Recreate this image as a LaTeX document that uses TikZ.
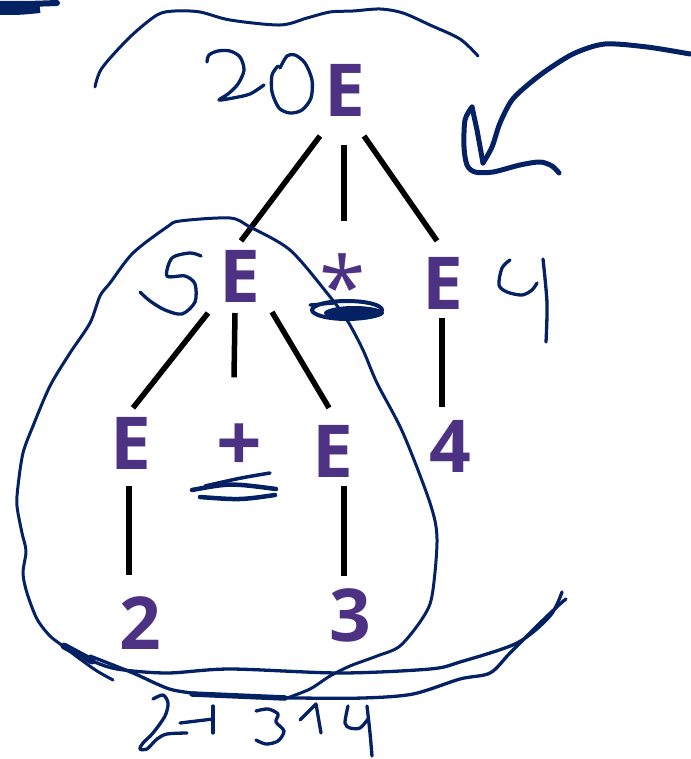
\documentclass[tikz,border=0pt]{standalone}
\usepackage{fontspec}
\setsansfont{Open Sans}
\definecolor{pur}{RGB}{77,50,132}
\definecolor{ink}{RGB}{3,33,99}
\tikzset{
  sym/.style={inner sep=0pt, outer sep=0pt, text=pur, anchor=base,
    font=\fontsize{73}{73}\selectfont\sffamily\bfseries},
  edge/.style={line width=5.5pt, black},
  pen/.style={ink, line width=3.3pt, line cap=round, line join=round},
  fatpen/.style={pen, line width=5pt}
}
\begin{document}
\begin{tikzpicture}[x=1pt,y=-1pt]
\useasboundingbox (0,0) rectangle (690,759);

% ---------- tree symbols ----------
\node[sym] (topE)   at (345,117)   {E};
\node[sym] (midE)   at (239.5,302) {E};
\node[sym, font=\fontsize{84}{84}\selectfont\sffamily] (star) at (343,317) {*};
\node[sym] (rightE) at (442.5,309) {E};
\node[sym] (leftE)  at (130.5,469) {E};
\node[sym, font=\fontsize{80}{80}\selectfont\sffamily\bfseries] (plus) at (239,471) {+};
\node[sym] (innerE) at (332.5,477) {E};
\node[sym] (four)   at (450,472)   {4};
\node[sym] (two)    at (140.5,649) {2};
\node[sym] (three)  at (350.5,641) {3};

% ---------- tree edges ----------
\draw[edge] ([shift={(-25,19)}]topE.south) -- ([shift={(1.5,-9)}]midE.north);
\draw[edge] ([shift={(-1,28)}]topE.south) -- ([shift={(1,-32)}]star.north);
\draw[edge] ([shift={(19,19)}]topE.south) -- ([shift={(-5.5,-16)}]rightE.north);
\draw[edge] ([shift={(-31.5,11)}]midE.south) -- ([shift={(2.5,-9)}]leftE.north);
\draw[edge] ([shift={(-4.5,11)}]midE.south) -- ([shift={(-5,-46)}]plus.north);
\draw[edge] ([shift={(32.5,10)}]midE.south) -- ([shift={(-3.5,-17)}]innerE.north);
\draw[edge] ([shift={(-0.5,9)}]rightE.south) -- ([shift={(-8,-13)}]four.north);
\draw[edge] ([shift={(-1.5,17)}]leftE.south) -- ([shift={(-11.5,-21)}]two.north);
\draw[edge] ([shift={(11.5,9)}]innerE.south) -- ([shift={(-6.5,-12)}]three.north);

% ---------- hand-drawn annotations ----------
% top-left scribble
\draw[ink, line width=8pt] (0,11) .. controls (20,11) .. (40,9);
\draw[ink, line width=6pt, line cap=round] (0,4) .. controls (30,4) .. (57,3);

% arc over the top
\draw[pen, line width=3pt] plot[smooth, tension=0.5] coordinates {
  (95,87) (102,68) (130,37) (157,15) (175,11) (200,12) (230,20) (280,25)
  (307,18) (330,12) (353,11) (380,9) (403,13) (430,25) (460,39) (478,56)};

% "20"
\draw[pen] plot[smooth, tension=0.5] coordinates {
  (207,62) (209,55) (218,51) (230,51) (240,57) (244,70) (238,84) (228,94)
  (219,100) (233,98) (250,94) (264,85)};
\draw[pen] plot[smooth, tension=0.5] coordinates {
  (280,68) (287,56) (295,55) (305,63) (312,80) (311,98) (302,110) (290,113)
  (279,108) (272,92) (272,75) (278,66)};

% "5"
\draw[pen] plot[smooth, tension=0.5] coordinates {
  (201,256) (190,253) (172,258) (167,276) (185,276) (195,284) (195,302)
  (182,314) (165,310) (150,301) (140,292)};

% "4" on the right
\draw[pen] plot[smooth, tension=0.5] coordinates {
  (510,260) (502,268) (499,285) (507,292) (522,295) (532,290) (537,283)};
\draw[pen] plot[smooth, tension=0.5] coordinates {(543,259) (547,303) (546,342)};

% scribble under *
\draw[ink, line width=4pt] (347,310) ellipse [x radius=35, y radius=9];
\fill[ink] (354,313) ellipse [x radius=30, y radius=7];
\draw[pen] (310,305) -- (334,303);

% scribble under +
\draw[ink, line width=4.5pt, line cap=round] (192,490) .. controls (230,483) .. (276,489);
\draw[ink, line width=4.5pt, line cap=round] (200,497) .. controls (240,500) .. (275,495);
\draw[ink, line width=3.5pt, line cap=round] (205,486) .. controls (240,478) .. (270,473);

% big loop around left subtree
\draw[pen, line width=3pt] plot[smooth, tension=0.5] coordinates {
  (113,680) (97,671) (80,659) (63,646) (50,636) (37,619) (27,593) (23,573)
  (26,551) (22,533) (17,506) (18,486) (23,453) (33,426) (50,386) (70,353)
  (90,323) (100,296) (110,283) (133,253) (167,227) (180,221) (230,218)
  (250,227) (290,250) (327,293) (347,320) (363,350) (377,383) (403,433)
  (430,503) (437,539) (432,596) (422,619) (400,646) (377,656) (350,666)
  (330,676) (310,689) (287,698)};

% two long sweeping lines at the bottom
\draw[pen, line width=3.3pt] plot[smooth, tension=0.5] coordinates {
  (67,648) (90,660) (117,669) (167,673) (230,669) (340,673) (430,669)
  (460,662) (517,643) (550,616) (562,592)};
\draw[ink, line width=7pt, line cap=round] (64,646) -- (92,661);
\draw[pen, line width=3.3pt] plot[smooth, tension=0.5] coordinates {
  (90,656) (133,673) (157,684) (173,690) (200,694) (230,696) (263,697)
  (297,698) (363,698) (413,694) (460,679) (490,673) (510,653) (540,623)
  (560,604) (566,599)};
\draw[ink, line width=5.5pt, line cap=round] (192,694) -- (285,698);

% "2+3*4" written below
\draw[pen] plot[smooth, tension=0.5] coordinates {
  (153,699) (163,695) (168,703) (165,716) (153,733) (143,743) (140,749)
  (147,749) (157,739) (167,734) (187,733)};
\draw[pen] (180,723) -- (213,719);
\draw[pen] (213,706) -- (213,733);
\draw[pen] plot[smooth, tension=0.5] coordinates {
  (256,711) (268,709) (278,714) (276,722) (284,731) (278,741) (266,744) (256,740)};
\draw[pen] (300,720) -- (316,704) -- (321,733);
\draw[pen] plot[smooth, tension=0.5] coordinates {
  (348,706) (345,723) (350,728) (360,728) (368,719)};
\draw[pen] plot[smooth, tension=0.5] coordinates {(367,706) (370,733) (372,756)};

% arrow on the right
\draw[fatpen] plot[smooth, tension=0.5] coordinates {
  (690,54) (647,47) (605,44) (575,53) (550,68) (530,83) (512,100)
  (500,123) (492,147) (483,163)};
\draw[fatpen] (483,163) -- (477,130) -- (472,107);
\draw[fatpen] plot[smooth, tension=0.5] coordinates {
  (472,107) (465,120) (464,147) (467,165) (475,172) (493,172) (520,165)
  (540,162) (552,166) (559,173)};
\end{tikzpicture}
\end{document}
